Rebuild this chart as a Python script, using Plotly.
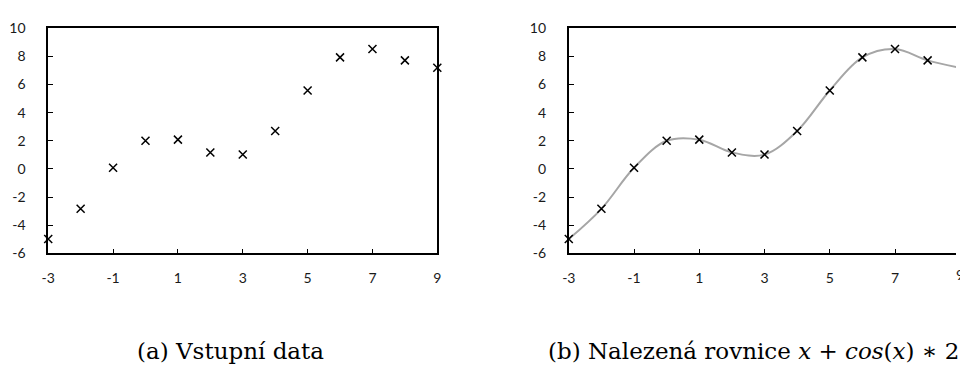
import plotly.graph_objects as go

x_vals = [-3, -2, -1, 0, 1, 2, 3, 4, 5, 6, 7, 8, 9]
y_vals = [-4.98, -2.83, 0.08, 2.00, 2.08, 1.17, 1.02, 2.69, 5.57, 7.92, 8.51, 7.71, 7.18]
x_ticks = [-3, -1, 1, 3, 5, 7, 9]
y_ticks = [-6, -4, -2, 0, 2, 4, 6, 8, 10]
caption_a = "(a) Vstupní data"
caption_b = "(b) Nalezená rovnice <i>x</i> + <i>cos</i>(<i>x</i>) ∗ 2"

W, H = 960, 377
tick_font = dict(family="Lato, Open Sans, sans-serif", size=14, color="#1a1a1a")
cap_font = dict(family="DejaVu Serif, serif", size=23, color="black")
marker = dict(symbol="x-thin", size=8, line=dict(width=1.5, color="black"), color="black")

fig = go.Figure()
fig.add_trace(go.Scatter(x=x_vals, y=y_vals, mode="markers", marker=marker,
                         xaxis="x", yaxis="y", cliponaxis=False, showlegend=False))
fig.add_trace(go.Scatter(x=x_vals, y=y_vals, mode="lines",
                         line=dict(shape="spline", smoothing=1.0, color="#a6a6a6", width=2),
                         xaxis="x2", yaxis="y2", showlegend=False))
fig.add_trace(go.Scatter(x=x_vals, y=y_vals, mode="markers", marker=marker,
                         xaxis="x2", yaxis="y2", cliponaxis=False, showlegend=False))

ydom = [1 - 256 / H, 1 - 20 / H]
common_x = dict(showgrid=False, zeroline=False, showline=True, linecolor="black", linewidth=1.8,
                ticks="inside", ticklen=5, tickwidth=1, tickcolor="black",
                tickvals=x_ticks, ticktext=[str(v) for v in x_ticks], tickfont=tick_font,
                ticklabelstandoff=11)
common_y = dict(showgrid=False, zeroline=False, showline=True, linecolor="black", linewidth=1.8,
                ticks="inside", ticklen=5, tickwidth=1, tickcolor="black",
                tickvals=y_ticks, ticktext=[str(v) for v in y_ticks], tickfont=tick_font,
                range=[-6, 10], domain=ydom, ticklabelstandoff=18)

fig.update_layout(
    width=W, height=H, margin=dict(l=0, r=0, t=0, b=0),
    paper_bgcolor="white", plot_bgcolor="white",
    xaxis=dict(**common_x, domain=[41.7 / W, 435.3 / W], range=[-3, 9], mirror=True, anchor="y"),
    yaxis=dict(**common_y, mirror=True, anchor="x"),
    xaxis2=dict(**common_x, domain=[568.3 / W, 1.0], range=[-3, -3 + (W - 568.3) / 33.0],
                mirror=True, anchor="y2"),
    yaxis2=dict(**common_y, mirror=False, anchor="x2"),
    annotations=[
        dict(text=caption_a, xref="paper", yref="paper", x=226 / W, y=1 - 358 / H,
             xanchor="center", yanchor="middle", showarrow=False, font=cap_font),
        dict(text=caption_b, xref="paper", yref="paper", x=755 / W, y=1 - 358 / H,
             xanchor="center", yanchor="middle", showarrow=False, font=cap_font),
        dict(text="9", xref="paper", yref="paper", x=964 / W, y=1 - 278 / H,
             xanchor="center", yanchor="middle", showarrow=False, font=tick_font),
    ],
)

fig.write_html("out.html")
